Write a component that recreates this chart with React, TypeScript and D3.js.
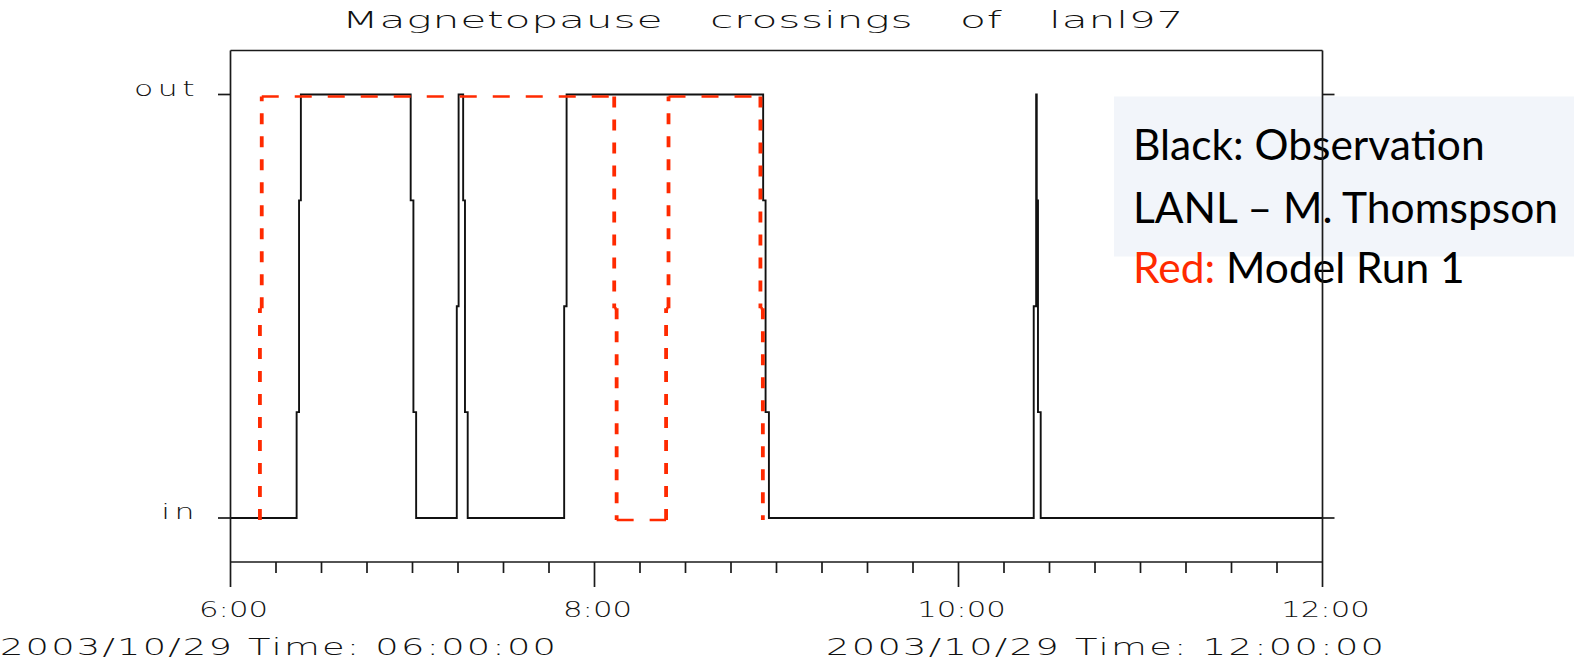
import React from "react";
import * as d3 from "d3";

// ---- data ----
// Observation (black): minutes after 06:00 and level (0 = in, 1 = out)
const obsMinutes = [0, 21.8, 22.6, 23.2, 59.4, 60.3, 61.2, 74.6, 75.2, 76.7, 77.3, 78.2, 110.0, 110.8, 175.6, 176.4, 177.5, 264.8, 265.6, 265.8, 266.2, 267.1, 360];
const obsLevels = [0, 0.25, 0.75, 1, 0.75, 0.25, 0, 0.5, 1, 0.75, 0.25, 0, 0.5, 1, 0.75, 0.25, 0, 0.5, 1, 0.75, 0.25, 0, 0];

// Model run 1 (red)
const modelMinutes = [9.7, 9.7, 10.3, 126.5, 127.3, 143.6, 144.4, 174.7, 175.5];
const modelLevels = [0, 0.5, 1, 0.5, 0, 0.5, 1, 0.5, 0];

const yTickValues = [0, 1];
const yTickLabels = ["in", "out"];
const xMajorMinutes = [0, 120, 240, 360];
const xMajorLabels = ["6:00", "8:00", "10:00", "12:00"];
const minorStep = 15;

const title = "Magnetopause crossings of lanl97";
const startLabel = "2003/10/29 Time: 06:00:00";
const endLabel = "2003/10/29 Time: 12:00:00";
const legendLines = ["Black: Observation", "LANL \u2013 M. Thomspson", "Model Run 1"];
const legendRedPrefix = "Red:";

const W = 1574;
const H = 665;

const hershey = "'DejaVu Sans', sans-serif";

function StretchText(props: {
  x: number;
  y: number;
  text: string;
  size: number;
  sx: number;
  width?: number;
  anchor?: "start" | "middle" | "end";
  spacing?: number;
  wordSpacing?: number;
}) {
  const { x, y, text, size, sx, width, anchor, spacing, wordSpacing } = props;
  const extra: any = {};
  if (width) {
    extra.textLength = width / sx;
    extra.lengthAdjust = "spacing";
  }
  return (
    <text
      transform={`translate(${x},${y}) scale(${sx},1)`}
      fontFamily={hershey}
      fontWeight={200}
      fontSize={size}
      fill="#111"
      textAnchor={anchor || "start"}
      letterSpacing={spacing || 0}
      wordSpacing={wordSpacing || 0}
      {...extra}
    >
      {text}
    </text>
  );
}

export default function App() {
  const x = d3.scaleLinear().domain([0, 360]).range([230.5, 1322.5]);
  const y = d3.scaleLinear().domain([0, 1]).range([518, 94.5]);
  const top = 50.5;
  const bottom = 562;

  const obs = obsMinutes.map((m, i) => [m, obsLevels[i]] as [number, number]);
  const line = d3
    .line<[number, number]>()
    .x((d) => x(d[0]))
    .y((d) => y(d[1]))
    .curve(d3.curveStepAfter);

  // red model split into horizontal and vertical segments
  const hSegs: { x1: number; x2: number; y: number }[] = [];
  const vSegs: { x: number; y1: number; y2: number }[] = [];
  for (let i = 1; i < modelMinutes.length; i++) {
    const x0 = x(modelMinutes[i - 1]);
    const x1 = x(modelMinutes[i]);
    const y0 = y(modelLevels[i - 1]);
    const y1 = y(modelLevels[i]);
    if (x1 - x0 > 0.5) hSegs.push({ x1: x0, x2: x1, y: y0 });
    if (Math.abs(y1 - y0) > 0.5) vSegs.push({ x: x1, y1: y0, y2: y1 });
  }

  const minorTicks = d3.range(0, 361, minorStep).filter((m) => !xMajorMinutes.includes(m));

  const axisColor = "#1a1a1a";
  const red = "#ff2a00";

  return (
    <svg width={W} height={H} style={{ position: "absolute", left: 0, top: 0, background: "#fff" }}>
      <rect x={0} y={0} width={W} height={H} fill="#fff" />

      {/* title */}
      <StretchText x={342} y={28} text={title} size={23} sx={1.85} spacing={0.4} wordSpacing={17.5} />

      {/* legend */}
      <rect x={1114} y={96.5} width={W - 1114} height={160} fill="#f2f5fa" />
      <g fontFamily="Lato, 'Open Sans', sans-serif" fontSize={42.5} fill="#000">
        <text x={1133} y={160}>{legendLines[0]}</text>
        <text x={1133} y={223}>{legendLines[1]}</text>
        <text x={1133} y={283}>
          <tspan fill={red}>{legendRedPrefix}</tspan>
          <tspan> {legendLines[2]}</tspan>
        </text>
      </g>

      {/* observation */}
      <path d={line(obs) || ""} fill="none" stroke="#111" strokeWidth={1.9} />

      {/* model */}
      <g transform="translate(0,2)" stroke={red} fill="none">
        {hSegs.map((s, i) => (
          <line key={"h" + i} x1={s.x1} x2={s.x2} y1={s.y} y2={s.y} strokeWidth={2.4} strokeDasharray="17 16" />
        ))}
        {vSegs.map((s, i) => (
          <line key={"v" + i} x1={s.x} x2={s.x} y1={s.y1} y2={s.y2} strokeWidth={3.8} strokeDasharray="11 12" />
        ))}
      </g>

      {/* frame */}
      <g stroke={axisColor} strokeWidth={1.7} fill="none">
        <line x1={x(0)} x2={x(360)} y1={top} y2={top} />
        <line x1={x(0)} x2={x(360)} y1={bottom} y2={bottom} />
        <line x1={x(0)} x2={x(0)} y1={top} y2={bottom} />
        <line x1={x(360)} x2={x(360)} y1={top} y2={bottom} />
        {xMajorMinutes.map((m) => (
          <line key={"M" + m} x1={x(m)} x2={x(m)} y1={bottom} y2={bottom + 25} />
        ))}
        {minorTicks.map((m) => (
          <line key={"m" + m} x1={x(m)} x2={x(m)} y1={bottom} y2={bottom + 11} />
        ))}
        {yTickValues.map((v) => (
          <g key={"y" + v}>
            <line x1={x(0) - 12.5} x2={x(0)} y1={y(v)} y2={y(v)} />
            <line x1={x(360)} x2={x(360) + 12} y1={y(v)} y2={y(v)} />
          </g>
        ))}
      </g>

      {/* y labels */}
      {yTickValues.map((v, i) => (
        <StretchText key={"yl" + v} x={199} y={y(v) + 1} text={yTickLabels[i]} size={21} sx={1.5} anchor="end" spacing={3} />
      ))}

      {/* x labels */}
      {xMajorMinutes.map((m, i) => (
        <StretchText key={"xl" + m} x={x(m) + 3} y={617} text={xMajorLabels[i]} size={20.5} sx={1.5} anchor="middle" />
      ))}

      <StretchText x={0} y={655} text={startLabel} size={23} sx={1.6} width={556} />
      <StretchText x={826} y={655} text={endLabel} size={23} sx={1.6} width={558} />
    </svg>
  );
}
